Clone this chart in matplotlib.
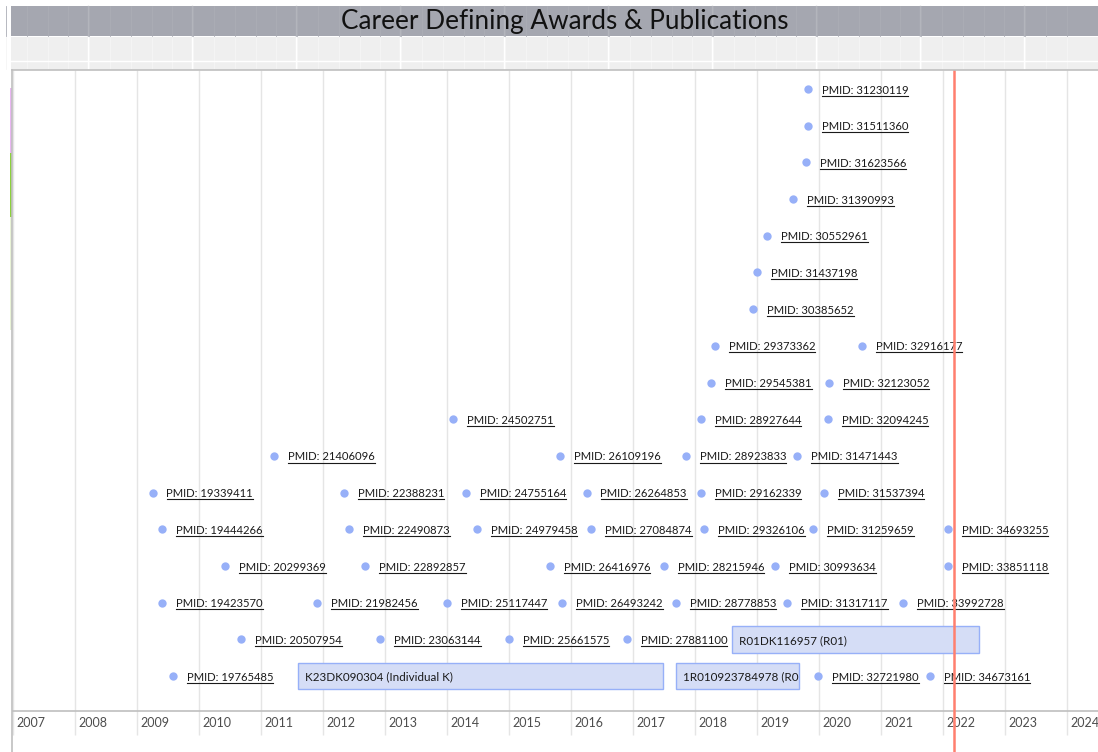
import matplotlib
matplotlib.use("Agg")
import matplotlib.pyplot as plt
from matplotlib.patches import Rectangle
from matplotlib.lines import Line2D

plt.rcParams['font.family'] = ['Lato', 'DejaVu Sans']

# ---- data (dates as decimal years, row = stacking level from the top) ----
title = "Career Defining Awards & Publications"

pub_pmid = [
    "31230119", "31511360", "31623566", "31390993", "30552961", "31437198", "30385652",
    "29373362", "32916177",
    "29545381", "32123052",
    "24502751", "28927644", "32094245",
    "21406096", "26109196", "28923833", "31471443",
    "19339411", "22388231", "24755164", "26264853", "29162339", "31537394",
    "19444266", "22490873", "24979458", "27084874", "29326106", "31259659", "34693255",
    "20299369", "22892857", "26416976", "28215946", "30993634", "33851118",
    "19423570", "21982456", "25117447", "26493242", "28778853", "31317117", "33992728",
    "20507954", "23063144", "25661575", "27881100",
    "19765485", "32721980", "34673161",
]
pub_date = [
    2019.82, 2019.82, 2019.79, 2019.58, 2019.16, 2019.00, 2018.94,
    2018.32, 2020.69,
    2018.26, 2020.16,
    2014.10, 2018.09, 2020.14,
    2011.21, 2015.83, 2017.85, 2019.65,
    2009.25, 2012.34, 2014.30, 2016.25, 2018.09, 2020.08,
    2009.41, 2012.42, 2014.48, 2016.33, 2018.15, 2019.91, 2022.08,
    2010.42, 2012.68, 2015.66, 2017.50, 2019.29, 2022.08,
    2009.41, 2011.91, 2014.00, 2015.86, 2017.69, 2019.49, 2021.36,
    2010.68, 2012.92, 2015.00, 2016.90,
    2009.58, 2019.99, 2021.79,
]
pub_row = [
    0, 1, 2, 3, 4, 5, 6,
    7, 7,
    8, 8,
    9, 9, 9,
    10, 10, 10, 10,
    11, 11, 11, 11, 11, 11,
    12, 12, 12, 12, 12, 12, 12,
    13, 13, 13, 13, 13, 13,
    14, 14, 14, 14, 14, 14, 14,
    15, 15, 15, 15,
    16, 16, 16,
]

grant_name = ["R01DK116957 (R01)", "K23DK090304 (Individual K)", "1R010923784978 (R01)"]
grant_start = [2018.59, 2011.59, 2017.69]
grant_end = [2022.58, 2017.49, 2019.68]
grant_row = [15, 16, 16]

years = list(range(2007, 2025))
today = 2022.18

# ---- figure ----
W, H = 1098, 752
fig = plt.figure(figsize=(W / 100, H / 100), dpi=100)
fig.patch.set_facecolor("white")

# header (pixel coords)
hdr = fig.add_axes([0, (H - 70) / H, 1, 70 / H])
hdr.set_xlim(0, W)
hdr.set_ylim(70, 0)
hdr.axis("off")
hdr.add_patch(Rectangle((11, 6), W - 11, 30, color="#a5a7b0", lw=0))
hdr.add_patch(Rectangle((11, 37), W - 11, 33, color="#efefef", lw=0))
for k in range(52):
    xx = 6 + 20.8 * k
    hdr.plot([xx, xx], [6, 36], color="#abadb5", lw=0.6)
    hdr.plot([xx, xx], [37, 69], color="#f5f5f5", lw=0.6)
for k in range(10):
    xx = 88 + 104 * k
    hdr.plot([xx, xx], [6, 36], color="#b3b5bc", lw=1.0)
    hdr.plot([xx, xx], [37, 69], color="white", lw=1.0)
hdr.plot([11, W], [60.5, 60.5], color="white", lw=1.0)
hdr.text(565, 21, title, ha="center", va="center", fontsize=18.8,
         color="#111111")

# main timeline panel
x_left = 12
ax = fig.add_axes([x_left / W, 0, (W - x_left) / W, (H - 70) / H])
ax.set_xlim(2007 - 1 / 62, 2007 + (W - 13) / 62)
ax.set_ylim(18.07, -0.518)
ax.axis("off")

# grid, axis line, labels
ax.vlines(years, 17.6, -0.518, color="#e5e5e5", lw=1, zorder=0)
ax.axhline(16.95, color="#bfbfbf", lw=1.2, zorder=1)
for y in years:
    ax.text(y + 3 / 62, 17.27, str(y), ha="left", va="center",
            fontsize=9, color="#4d4d4d")

# panel borders
fig.add_artist(Line2D([x_left / W, x_left / W], [0, (H - 70) / H],
                      color="#bfbfbf", lw=1.2))
fig.add_artist(Line2D([x_left / W, 1], [(H - 70) / H, (H - 70) / H],
                      color="#bfbfbf", lw=1.2))
# group colour slivers on the left
for (y0, y1, c) in [(88, 153, "#e9b6f2"), (153, 217, "#8cd03c"), (217, 330, "#e8f2d6")]:
    fig.add_artist(Rectangle((10 / W, 1 - y1 / H), 1.6 / W, (y1 - y0) / H,
                             color=c, lw=0, transform=fig.transFigure))

# publications (dots + underlined labels)
ax.scatter(pub_date, pub_row, s=36, color="#97b0f8", zorder=3, lw=0)
labels = []
for d, r, p in zip(pub_date, pub_row, pub_pmid):
    t = ax.text(d + 14 / 62, r + 0.125, "PMID: " + p, ha="left", va="baseline",
                fontsize=8.1, color="#1a1a1a", zorder=4)
    labels.append((t, r))

# grants (range items)
for n, s, e, r in zip(grant_name, grant_start, grant_end, grant_row):
    rect = Rectangle((s, r - 0.36), e - s, 0.72, facecolor="#d5ddf6",
                     edgecolor="#97b0f8", lw=1, zorder=2)
    ax.add_patch(rect)
    t = ax.text(s + 7 / 62, r + 0.125, n, ha="left", va="baseline",
                fontsize=8.4, color="#1a1a1a", zorder=4, clip_on=True)
    t.set_clip_path(rect)

# current time line
ax.axvline(today, ymin=0, ymax=1, color="#ff7f6e", lw=1.8, zorder=5)

# underline the publication links
fig.canvas.draw()
inv = ax.transData.inverted()
for t, r in labels:
    bb = t.get_window_extent()
    x0 = inv.transform((bb.x0, 0))[0]
    x1 = inv.transform((bb.x1, 0))[0]
    ax.plot([x0, x1], [r + 0.18, r + 0.18], color="#1a1a1a", lw=0.8, zorder=4)

fig.savefig("out.png", dpi=100)
